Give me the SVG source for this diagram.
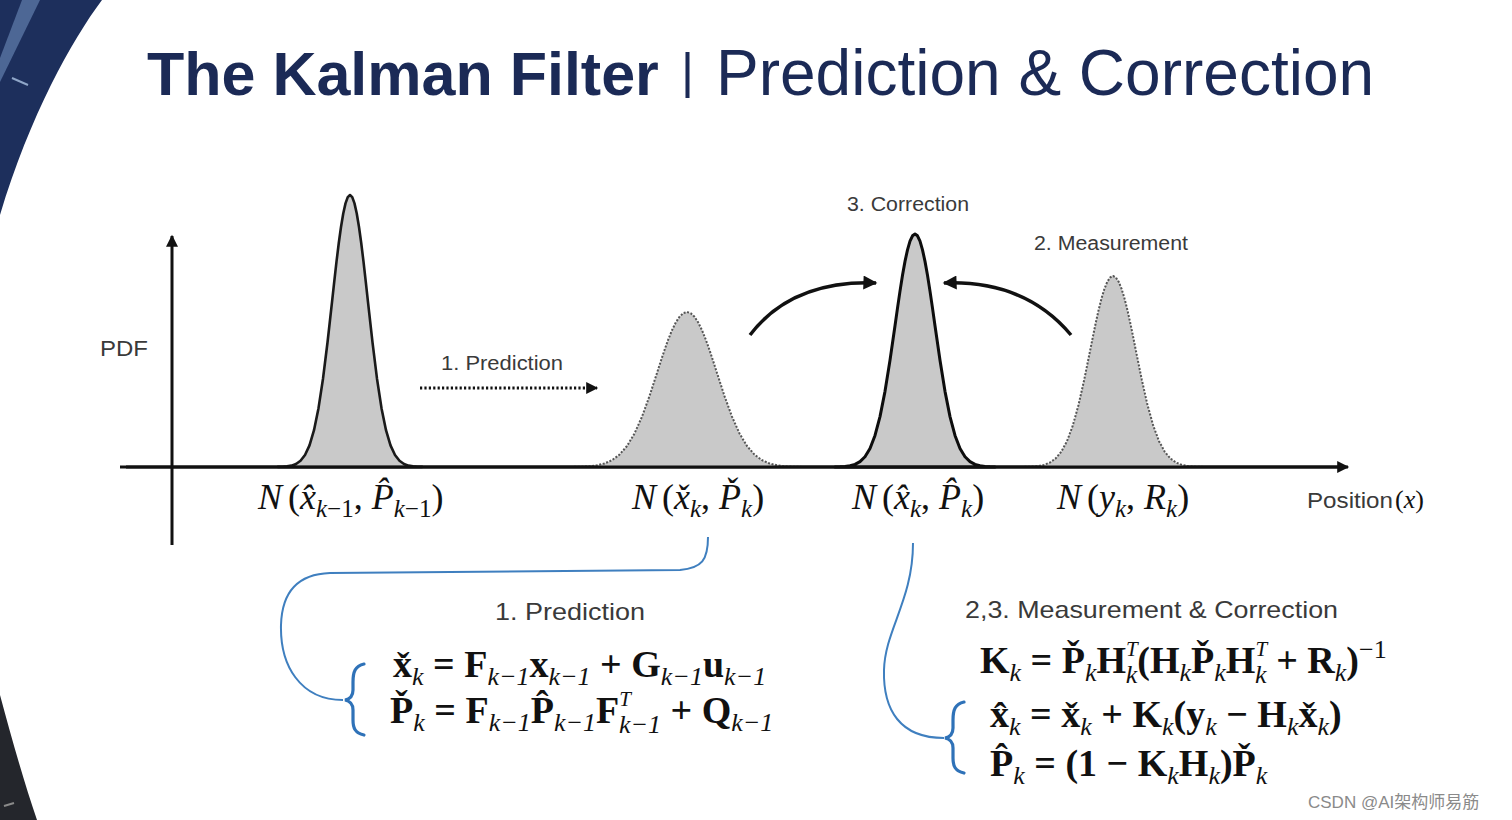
<svg xmlns="http://www.w3.org/2000/svg" xmlns:xlink="http://www.w3.org/1999/xlink" width="1512" height="820" viewBox="0 0 1512 820">
<style>
.title{font-family:"Liberation Sans",Arial,sans-serif;font-size:66px;fill:#1b2a56}
.lbl{font-family:"Liberation Sans",Arial,sans-serif;fill:#3a3a3a}
.eq{font-family:"Liberation Serif","Times New Roman",serif;font-weight:bold;font-size:38px;fill:#111}
.s{font-weight:normal;font-style:italic;font-size:26px}
.p{font-weight:normal;font-style:italic;font-size:21px}
.m{font-family:"Liberation Serif","Times New Roman",serif;font-style:italic;font-size:36px;fill:#111}
.ms{font-size:25px}
.up{font-style:normal}
.solid{fill:#c9c9c9;stroke:#1a1a1a;stroke-width:2.6;stroke-linejoin:round}
.dot{fill:#c9c9c9;stroke:#555;stroke-width:2;stroke-dasharray:2 1.6;stroke-linejoin:round}
.axis{stroke:#111;stroke-width:3;fill:none}
.arc{stroke:#111;stroke-width:3.5;fill:none}
.blue{stroke:#3f7fbf;stroke-width:2;fill:none}
.brace{stroke:#2f72b8;stroke-width:3.2;fill:none;stroke-linecap:round}
</style>
<defs>
<path id="gauss" vector-effect="non-scaling-stroke" d="M-4,0 L-4,-0.0003 L-3.75,-0.0009 L-3.5,-0.0022 L-3.25,-0.0051 L-3,-0.0111 L-2.75,-0.0228 L-2.5,-0.0439 L-2.25,-0.0796 L-2,-0.1353 L-1.75,-0.2163 L-1.5,-0.3247 L-1.25,-0.4578 L-1,-0.6065 L-0.875,-0.6819 L-0.75,-0.7548 L-0.625,-0.8226 L-0.5,-0.8825 L-0.375,-0.9321 L-0.25,-0.9692 L-0.125,-0.9922 L0,-1 L0.125,-0.9922 L0.25,-0.9692 L0.375,-0.9321 L0.5,-0.8825 L0.625,-0.8226 L0.75,-0.7548 L0.875,-0.6819 L1,-0.6065 L1.25,-0.4578 L1.5,-0.3247 L1.75,-0.2163 L2,-0.1353 L2.25,-0.0796 L2.5,-0.0439 L2.75,-0.0228 L3,-0.0111 L3.25,-0.0051 L3.5,-0.0022 L3.75,-0.0009 L4,-0.0003 L4,0 Z"/>
<marker id="ah" viewBox="0 0 10 10" refX="9" refY="5" markerWidth="17" markerHeight="14" markerUnits="userSpaceOnUse" orient="auto"><path d="M0,0 L10,5 L0,10 Z" fill="#111"/></marker>
<marker id="ahs" viewBox="0 0 10 10" refX="9" refY="5" markerWidth="14" markerHeight="12" markerUnits="userSpaceOnUse" orient="auto"><path d="M0,0 L10,5 L0,10 Z" fill="#111"/></marker>
</defs>

<rect width="1512" height="820" fill="#ffffff"/>

<g id="corners">
<path d="M0,0 H102 C72,40 30,115 0,215 Z" fill="#1d2f5c"/>
<path d="M22,0 L40,0 L0,82 L0,58 Z" fill="#5a76a4" opacity="0.8"/>
<path d="M12,78 L28,85" stroke="#8fa6c8" stroke-width="2"/>
<path d="M0,695 C12,740 25,785 37,820 L0,820 Z" fill="#24262c"/>
<path d="M4,806 L14,803" stroke="#8a8a8a" stroke-width="2"/>
</g>

<g id="title">
<text class="title" x="147" y="95" font-weight="bold" style="font-size:61px">The Kalman Filter</text>
<text class="title" x="681" y="88"><tspan style="font-size:50px">|</tspan><tspan style="font-size:64px" dx="22" dy="7">Prediction &amp; Correction</tspan></text>
</g>

<g id="axes">
<line class="axis" x1="126" y1="467" x2="1348" y2="467" marker-end="url(#ahs)"/>
<line class="axis" x1="172" y1="545" x2="172" y2="236" marker-end="url(#ahs)"/>
<text class="lbl" x="100" y="356" font-size="22" textLength="48" lengthAdjust="spacingAndGlyphs">PDF</text>
<text class="lbl" x="1307" y="508" font-size="22" textLength="86" lengthAdjust="spacingAndGlyphs">Position</text>
<text class="m" x="1395" y="508" style="font-size:26px"><tspan class="up">(</tspan>x<tspan class="up">)</tspan></text>
</g>

<g id="gauss-prev"><use href="#gauss" class="solid" transform="translate(350,467) scale(18,272)"/></g>
<g id="gauss-pred"><use href="#gauss" class="dot" transform="translate(687,467) scale(30,155)"/></g>
<g id="gauss-corr"><use href="#gauss" class="solid" style="stroke:#0d0d0d;stroke-width:3" transform="translate(915,467) scale(20,233)"/></g>
<g id="gauss-meas"><use href="#gauss" class="dot" transform="translate(1113,467) scale(23,191)"/></g>
<line x1="120" y1="467" x2="1340" y2="467" stroke="#111" stroke-width="3"/>

<g id="step-labels">
<text class="lbl" x="441" y="370" font-size="20" textLength="122" lengthAdjust="spacingAndGlyphs">1. Prediction</text>
<text class="lbl" x="847" y="211" font-size="20" textLength="122" lengthAdjust="spacingAndGlyphs">3. Correction</text>
<text class="lbl" x="1034" y="250" font-size="20" textLength="154" lengthAdjust="spacingAndGlyphs">2. Measurement</text>
</g>

<g id="dist-labels">
<text class="m" x="258" y="509">N<tspan class="up" dx="6">(</tspan>x̂<tspan class="ms" dy="8">k<tspan class="up">−1</tspan></tspan><tspan class="up" dy="-8">, </tspan>P̂<tspan class="ms" dy="8">k<tspan class="up">−1</tspan></tspan><tspan class="up" dy="-8">)</tspan></text>
<text class="m" x="632" y="509">N<tspan class="up" dx="6">(</tspan>x̌<tspan class="ms" dy="8">k</tspan><tspan class="up" dy="-8">, </tspan>P̌<tspan class="ms" dy="8">k</tspan><tspan class="up" dy="-8">)</tspan></text>
<text class="m" x="852" y="509">N<tspan class="up" dx="6">(</tspan>x̂<tspan class="ms" dy="8">k</tspan><tspan class="up" dy="-8">, </tspan>P̂<tspan class="ms" dy="8">k</tspan><tspan class="up" dy="-8">)</tspan></text>
<text class="m" x="1057" y="509">N<tspan class="up" dx="6">(</tspan>y<tspan class="ms" dy="8">k</tspan><tspan class="up" dy="-8">, </tspan>R<tspan class="ms" dy="8">k</tspan><tspan class="up" dy="-8">)</tspan></text>
</g>

<g id="connectors">
<line x1="420" y1="388" x2="597" y2="388" stroke="#111" stroke-width="3" stroke-dasharray="2.2 2.2" marker-end="url(#ahs)"/>
<path class="arc" d="M750,335 Q792,280 876,283" marker-end="url(#ah)"/>
<path class="arc" d="M1071,335 Q1025,280 944,283" marker-end="url(#ah)"/>
<path class="blue" d="M708,537 C708,560 702,568 680,570 L330,573 C300,574 282,590 281,625 C280,665 300,700 343,700"/>
<path class="blue" d="M913,543 C913,600 885,630 884,670 C883,710 900,738 944,738"/>
</g>

<g id="prediction-eqs">
<text class="lbl" x="495" y="620" font-size="24" textLength="150" lengthAdjust="spacingAndGlyphs">1. Prediction</text>
<path class="brace" d="M364,664 C355,666 353,672 353,682 L353,690 C353,696 350,699 345,700 C350,701 353,704 353,710 L353,720 C353,728 355,733 364,735"/>
<text class="eq" x="393" y="677">x̌<tspan class="s" dy="8">k</tspan><tspan dy="-8"> = F</tspan><tspan class="s" dy="8">k−1</tspan><tspan dy="-8">x</tspan><tspan class="s" dy="8">k−1</tspan><tspan dy="-8"> + G</tspan><tspan class="s" dy="8">k−1</tspan><tspan dy="-8">u</tspan><tspan class="s" dy="8">k−1</tspan></text>
<text class="eq" x="390" y="723">P̌<tspan class="s" dy="8">k</tspan><tspan dy="-8"> = F</tspan><tspan class="s" dy="8">k−1</tspan><tspan dy="-8">P̂</tspan><tspan class="s" dy="8">k−1</tspan><tspan dy="-8">F</tspan><tspan class="p" dy="-17">T</tspan><tspan class="s" dx="-12" dy="27">k−1</tspan><tspan dy="-10"> + Q</tspan><tspan class="s" dy="8">k−1</tspan></text>
</g>

<g id="correction-eqs">
<text class="lbl" x="965" y="618" font-size="24" textLength="373" lengthAdjust="spacingAndGlyphs">2,3. Measurement &amp; Correction</text>
<path class="brace" d="M964,702 C955,704 953,710 953,720 L953,728 C953,734 950,737 945,738 C950,739 953,742 953,748 L953,758 C953,766 955,771 964,773"/>
<text class="eq" x="980" y="673">K<tspan class="s" dy="8">k</tspan><tspan dy="-8"> = P̌</tspan><tspan class="s" dy="8">k</tspan><tspan dy="-8">H</tspan><tspan class="p" dy="-17">T</tspan><tspan class="s" dx="-12" dy="27">k</tspan><tspan dy="-10">(H</tspan><tspan class="s" dy="8">k</tspan><tspan dy="-8">P̌</tspan><tspan class="s" dy="8">k</tspan><tspan dy="-8">H</tspan><tspan class="p" dy="-17">T</tspan><tspan class="s" dx="-12" dy="27">k</tspan><tspan dy="-10"> + R</tspan><tspan class="s" dy="8">k</tspan><tspan dy="-8">)</tspan><tspan class="s" style="font-style:normal" dy="-15">−1</tspan></text>
<text class="eq" x="990" y="727">x̂<tspan class="s" dy="8">k</tspan><tspan dy="-8"> = x̌</tspan><tspan class="s" dy="8">k</tspan><tspan dy="-8"> + K</tspan><tspan class="s" dy="8">k</tspan><tspan dy="-8">(y</tspan><tspan class="s" dy="8">k</tspan><tspan dy="-8"> − H</tspan><tspan class="s" dy="8">k</tspan><tspan dy="-8">x̌</tspan><tspan class="s" dy="8">k</tspan><tspan dy="-8">)</tspan></text>
<text class="eq" x="990" y="776">P̂<tspan class="s" dy="8">k</tspan><tspan dy="-8"> = (1 − K</tspan><tspan class="s" dy="8">k</tspan><tspan dy="-8">H</tspan><tspan class="s" dy="8">k</tspan><tspan dy="-8">)P̌</tspan><tspan class="s" dy="8">k</tspan></text>
</g>

<text x="1308" y="808" font-family="Liberation Sans, Noto Sans CJK SC, sans-serif" font-size="17" fill="#8a8a8a">CSDN @AI架构师易筋</text>
</svg>
